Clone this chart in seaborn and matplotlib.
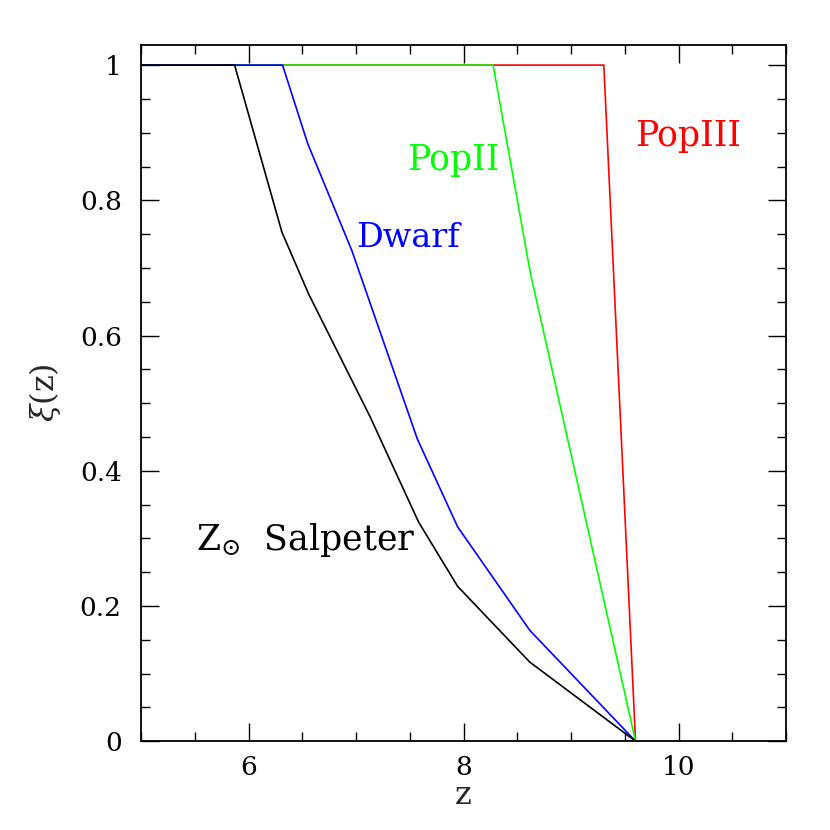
import pandas as pd
import matplotlib
matplotlib.use('Agg')
import matplotlib.pyplot as plt
import seaborn as sns
from matplotlib.ticker import MultipleLocator

# curves (z, xi)
salpeter_z = [5.0, 5.87, 6.31, 6.557, 7.13, 7.582, 7.945, 8.616, 9.6]
salpeter_xi = [1.0, 1.0, 0.753, 0.662, 0.48, 0.324, 0.229, 0.117, 0.0]

dwarf_z = [5.0, 6.316, 6.55, 6.96, 7.57, 7.945, 8.616, 9.6]
dwarf_xi = [1.0, 1.0, 0.884, 0.726, 0.447, 0.317, 0.164, 0.0]

popII_z = [5.0, 8.275, 8.622, 9.6]
popII_xi = [1.0, 1.0, 0.692, 0.0]

popIII_z = [5.0, 9.305, 9.6]
popIII_xi = [1.0, 1.0, 0.0]

names = ['PopIII', 'PopII', 'Dwarf', 'Salpeter']
colors = ['#ff0000', '#00ff00', '#0000ff', '#000000']

rows = []
for name, zs, xis in zip(names,
                         [popIII_z, popII_z, dwarf_z, salpeter_z],
                         [popIII_xi, popII_xi, dwarf_xi, salpeter_xi]):
    for z, xi in zip(zs, xis):
        rows.append({'model': name, 'z': z, 'xi': xi})
df = pd.DataFrame(rows)

sns.set_style('ticks')
plt.rcParams['font.family'] = ['DejaVu Serif']
plt.rcParams['mathtext.fontset'] = 'dejavuserif'

fig = plt.figure(figsize=(8.3, 8.3), dpi=100)
ax = fig.add_axes([0.170, 0.107, 0.777, 0.839])

sns.lineplot(data=df, x='z', y='xi', hue='model', hue_order=names,
             palette=colors, estimator=None, sort=False, legend=False,
             linewidth=1.2, ax=ax)

ax.set_xlim(5, 11)
ax.set_ylim(0, 1.03)
ax.xaxis.set_minor_locator(MultipleLocator(0.5))
ax.yaxis.set_minor_locator(MultipleLocator(0.05))
ax.set_yticks([0, 0.2, 0.4, 0.6, 0.8, 1.0])
ax.set_yticklabels(['0', '0.2', '0.4', '0.6', '0.8', '1'])
ax.set_xticks([6, 8, 10])
ax.set_xticklabels(['6', '8', '10'])

ax.tick_params(which='both', direction='in', top=True, right=True,
               labelsize=19, width=1.0, color='black', labelcolor='black')
ax.tick_params(axis='y', which='major', length=13, pad=14)
ax.tick_params(axis='x', which='major', length=13, pad=10)
ax.tick_params(which='minor', length=6.5)
for s in ax.spines.values():
    s.set_linewidth(1.3)
    s.set_color('black')

ax.set_xlabel('z', fontsize=23, labelpad=0)
ax.set_ylabel(r'$\xi$(z)', fontsize=23, labelpad=12)

ax.text(10.09, 0.895, 'PopIII', color='#ff0000', fontsize=25, ha='center', va='center')
ax.text(7.905, 0.859, 'PopII', color='#00ff00', fontsize=25, ha='center', va='center')
ax.text(7.48, 0.744, 'Dwarf', color='#0000ff', fontsize=24, ha='center', va='center')
ax.text(6.53, 0.297, r'Z$_{\odot}$  Salpeter', color='black', fontsize=25, ha='center', va='center')

fig.savefig('out.png', dpi=100)
